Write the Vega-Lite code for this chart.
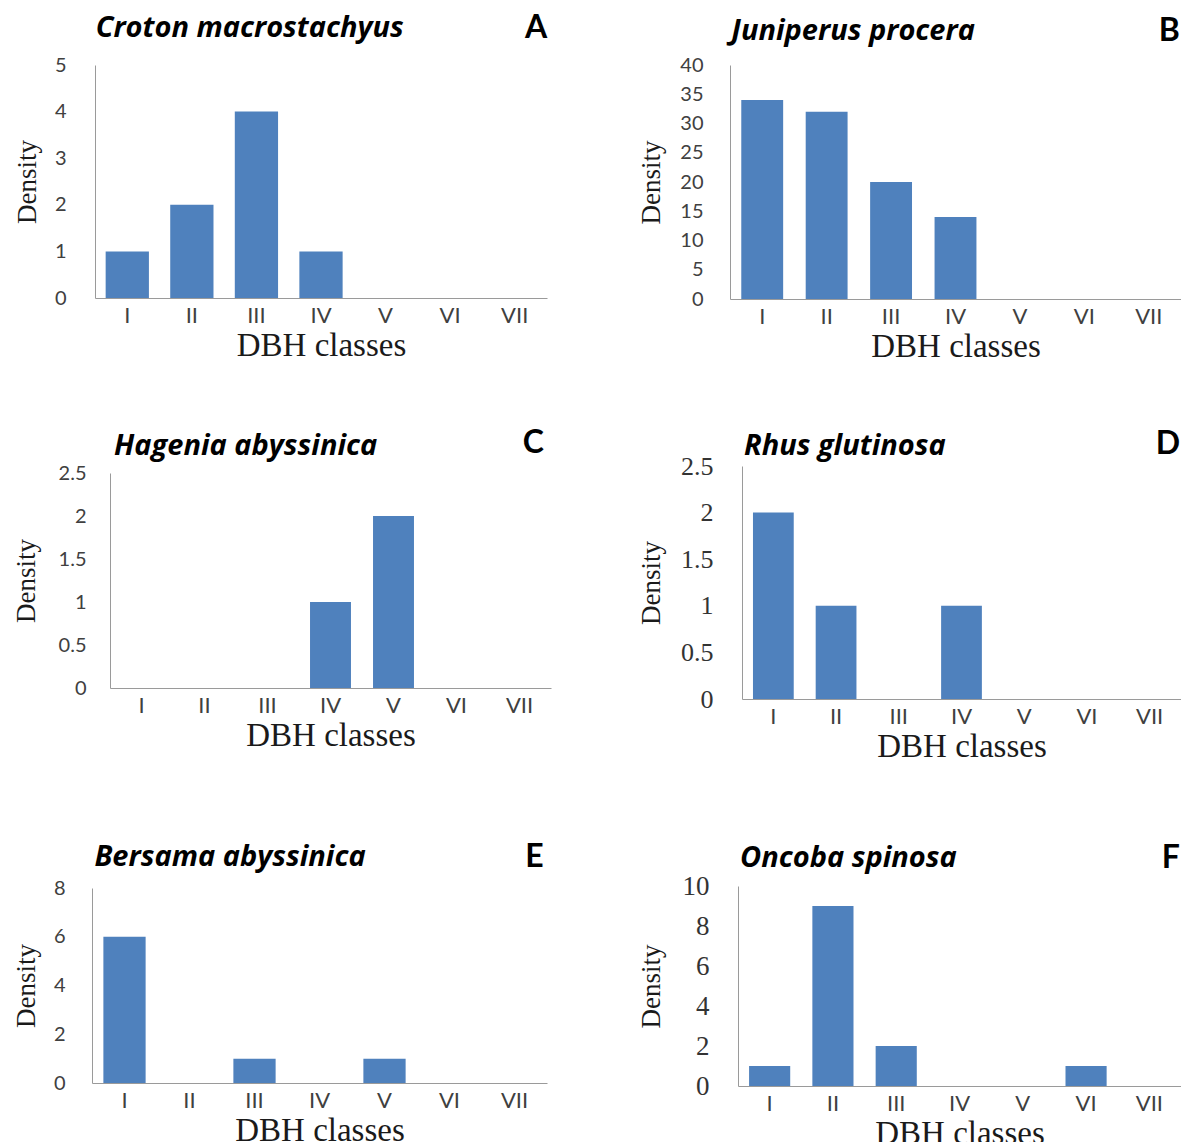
{
  "$schema": "https://vega.github.io/schema/vega-lite/v6.json",
  "padding": {"left": 12, "top": 12, "right": 0, "bottom": 0},
  "background": "white",
  "datasets": {
    "bars": [
      {"p": "A", "cls": "I", "density": 1}, {"p": "A", "cls": "II", "density": 2}, {"p": "A", "cls": "III", "density": 4}, {"p": "A", "cls": "IV", "density": 1}, {"p": "A", "cls": "V", "density": 0}, {"p": "A", "cls": "VI", "density": 0}, {"p": "A", "cls": "VII", "density": 0},
      {"p": "B", "cls": "I", "density": 34}, {"p": "B", "cls": "II", "density": 32}, {"p": "B", "cls": "III", "density": 20}, {"p": "B", "cls": "IV", "density": 14}, {"p": "B", "cls": "V", "density": 0}, {"p": "B", "cls": "VI", "density": 0}, {"p": "B", "cls": "VII", "density": 0},
      {"p": "C", "cls": "I", "density": 0}, {"p": "C", "cls": "II", "density": 0}, {"p": "C", "cls": "III", "density": 0}, {"p": "C", "cls": "IV", "density": 1}, {"p": "C", "cls": "V", "density": 2}, {"p": "C", "cls": "VI", "density": 0}, {"p": "C", "cls": "VII", "density": 0},
      {"p": "D", "cls": "I", "density": 2}, {"p": "D", "cls": "II", "density": 1}, {"p": "D", "cls": "III", "density": 0}, {"p": "D", "cls": "IV", "density": 1}, {"p": "D", "cls": "V", "density": 0}, {"p": "D", "cls": "VI", "density": 0}, {"p": "D", "cls": "VII", "density": 0},
      {"p": "E", "cls": "I", "density": 6}, {"p": "E", "cls": "II", "density": 0}, {"p": "E", "cls": "III", "density": 1}, {"p": "E", "cls": "IV", "density": 0}, {"p": "E", "cls": "V", "density": 1}, {"p": "E", "cls": "VI", "density": 0}, {"p": "E", "cls": "VII", "density": 0},
      {"p": "F", "cls": "I", "density": 1}, {"p": "F", "cls": "II", "density": 9}, {"p": "F", "cls": "III", "density": 2}, {"p": "F", "cls": "IV", "density": 0}, {"p": "F", "cls": "V", "density": 0}, {"p": "F", "cls": "VI", "density": 1}, {"p": "F", "cls": "VII", "density": 0}
    ],
    "labels": [
      {"p": "A", "species": "Croton macrostachyus", "letter": "A"},
      {"p": "B", "species": "Juniperus procera", "letter": "B"},
      {"p": "C", "species": "Hagenia abyssinica", "letter": "C"},
      {"p": "D", "species": "Rhus glutinosa", "letter": "D"},
      {"p": "E", "species": "Bersama abyssinica", "letter": "E"},
      {"p": "F", "species": "Oncoba spinosa", "letter": "F"}
    ]
  },
  "config": {
    "view": {"stroke": null},
    "axis": {"domainColor": "#9a9a9a", "domainWidth": 1, "ticks": false, "grid": false, "labelFont": "Lato", "labelColor": "#404040", "titleFont": "Liberation Serif", "titleFontWeight": "normal", "titleColor": "#1a1a1a"},
    "axisX": {"labelAngle": 0, "labelFontSize": 22, "labelPadding": 7, "titleFontSize": 33, "titlePadding": 2, "minExtent": 29, "maxExtent": 29},
    "axisY": {"labelFontSize": 20, "titleFontSize": 27, "titlePadding": 0, "format": "~r", "labelOverlap": false},
    "bar": {"color": "#4f81bd"},
    "text": {"color": "#000000", "font": "Lato", "fontWeight": "bold", "baseline": "middle"}
  },
  "hconcat": [
    {
      "vconcat": [
        {
          "width": 455, "height": 233,
          "layer": [
            {"data": {"name": "bars"}, "transform": [{"filter": "datum.p === 'A'"}], "mark": "bar",
             "encoding": {
               "x": {"field": "cls", "type": "ordinal", "scale": {"domain": ["I","II","III","IV","V","VI","VII"], "range": [3, 455], "paddingInner": 0.33, "paddingOuter": 0.165}, "axis": {"title": "DBH classes"}},
               "y": {"field": "density", "type": "quantitative", "scale": {"domain": [0, 5], "nice": false}, "axis": {"values": [0,1,2,3,4,5], "title": "Density", "offset": -3, "labelPadding": 29, "minExtent": 54, "maxExtent": 54}}
             }},
            {"data": {"name": "labels"}, "transform": [{"filter": "datum.p === 'A'"}],
             "mark": {"type": "text", "align": "left", "font": "Open Sans", "fontSize": 29, "fontStyle": "italic", "dx": -10, "dy": -37},
             "encoding": {"x": {"datum": "I", "bandPosition": 0}, "y": {"datum": 5, "axis": {"values": [0,1,2,3,4,5], "title": "Density", "offset": -3, "labelPadding": 29, "minExtent": 54, "maxExtent": 54}}, "text": {"field": "species"}}},
            {"data": {"name": "labels"}, "transform": [{"filter": "datum.p === 'A'"}],
             "mark": {"type": "text", "align": "right", "fontSize": 32, "dx": 11, "dy": -37},
             "encoding": {"x": {"datum": "VII", "bandPosition": 1}, "y": {"datum": 5, "axis": {"values": [0,1,2,3,4,5], "title": "Density", "offset": -3, "labelPadding": 29, "minExtent": 54, "maxExtent": 54}}, "text": {"field": "letter"}}}
          ]
        },
        {
          "vconcat": [
            {
              "width": 459, "height": 215,
              "layer": [
                {"data": {"name": "bars"}, "transform": [{"filter": "datum.p === 'C'"}], "mark": "bar",
                 "encoding": {
                   "x": {"field": "cls", "type": "ordinal", "scale": {"domain": ["I","II","III","IV","V","VI","VII"], "range": [18, 459], "paddingInner": 0.35, "paddingOuter": 0.175}, "axis": {"title": "DBH classes"}},
                   "y": {"field": "density", "type": "quantitative", "scale": {"domain": [0, 2.5], "nice": false}, "axis": {"values": [0,0.5,1,1.5,2,2.5], "title": "Density", "offset": -18, "labelPadding": 24, "minExtent": 70, "maxExtent": 70}}
                 }},
                {"data": {"name": "labels"}, "transform": [{"filter": "datum.p === 'C'"}],
                 "mark": {"type": "text", "align": "left", "font": "Open Sans", "fontSize": 29, "fontStyle": "italic", "dx": -7, "dy": -27},
                 "encoding": {"x": {"datum": "I", "bandPosition": 0}, "y": {"datum": 2.5, "axis": {"values": [0,0.5,1,1.5,2,2.5], "title": "Density", "offset": -18, "labelPadding": 24, "minExtent": 70, "maxExtent": 70}}, "text": {"field": "species"}}},
                {"data": {"name": "labels"}, "transform": [{"filter": "datum.p === 'C'"}],
                 "mark": {"type": "text", "align": "right", "fontSize": 32, "dx": 4, "dy": -30},
                 "encoding": {"x": {"datum": "VII", "bandPosition": 1}, "y": {"datum": 2.5, "axis": {"values": [0,0.5,1,1.5,2,2.5], "title": "Density", "offset": -18, "labelPadding": 24, "minExtent": 70, "maxExtent": 70}}, "text": {"field": "letter"}}}
              ]
            },
            {
              "width": 455, "height": 195,
              "layer": [
                {"data": {"name": "bars"}, "transform": [{"filter": "datum.p === 'E'"}], "mark": "bar",
                 "encoding": {
                   "x": {"field": "cls", "type": "ordinal", "scale": {"domain": ["I","II","III","IV","V","VI","VII"], "range": [0, 455], "paddingInner": 0.35, "paddingOuter": 0.175}, "axis": {"title": "DBH classes"}},
                   "y": {"field": "density", "type": "quantitative", "scale": {"domain": [0, 8], "nice": false}, "axis": {"values": [0,2,4,6,8], "title": "Density", "labelPadding": 27, "minExtent": 52, "maxExtent": 52}}
                 }},
                {"data": {"name": "labels"}, "transform": [{"filter": "datum.p === 'E'"}],
                 "mark": {"type": "text", "align": "left", "font": "Open Sans", "fontSize": 29, "fontStyle": "italic", "dx": -9, "dy": -31},
                 "encoding": {"x": {"datum": "I", "bandPosition": 0}, "y": {"datum": 8, "axis": {"values": [0,2,4,6,8], "title": "Density", "labelPadding": 27, "minExtent": 52, "maxExtent": 52}}, "text": {"field": "species"}}},
                {"data": {"name": "labels"}, "transform": [{"filter": "datum.p === 'E'"}],
                 "mark": {"type": "text", "align": "right", "fontSize": 32, "dx": 8, "dy": -31},
                 "encoding": {"x": {"datum": "VII", "bandPosition": 1}, "y": {"datum": 8, "axis": {"values": [0,2,4,6,8], "title": "Density", "labelPadding": 27, "minExtent": 52, "maxExtent": 52}}, "text": {"field": "letter"}}}
              ]
            }
          ],
          "spacing": 89
        }
      ],
      "spacing": 65
    },
    {
      "vconcat": [
        {
          "width": 451, "height": 234,
          "layer": [
            {"data": {"name": "bars"}, "transform": [{"filter": "datum.p === 'B'"}], "mark": "bar",
             "encoding": {
               "x": {"field": "cls", "type": "ordinal", "scale": {"domain": ["I","II","III","IV","V","VI","VII"], "range": [0, 451], "paddingInner": 0.35, "paddingOuter": 0.175}, "axis": {"title": "DBH classes"}},
               "y": {"field": "density", "type": "quantitative", "scale": {"domain": [0, 40], "nice": false}, "axis": {"values": [0,5,10,15,20,25,30,35,40], "title": "Density", "labelPadding": 27, "minExtent": 65, "maxExtent": 65}}
             }},
            {"data": {"name": "labels"}, "transform": [{"filter": "datum.p === 'B'"}],
             "mark": {"type": "text", "align": "left", "font": "Open Sans", "fontSize": 29, "fontStyle": "italic", "dx": -10, "dy": -34},
             "encoding": {"x": {"datum": "I", "bandPosition": 0}, "y": {"datum": 40, "axis": {"values": [0,5,10,15,20,25,30,35,40], "title": "Density", "labelPadding": 27, "minExtent": 65, "maxExtent": 65}}, "text": {"field": "species"}}},
            {"data": {"name": "labels"}, "transform": [{"filter": "datum.p === 'B'"}],
             "mark": {"type": "text", "align": "right", "fontSize": 32, "dx": 10, "dy": -34},
             "encoding": {"x": {"datum": "VII", "bandPosition": 1}, "y": {"datum": 40, "axis": {"values": [0,5,10,15,20,25,30,35,40], "title": "Density", "labelPadding": 27, "minExtent": 65, "maxExtent": 65}}, "text": {"field": "letter"}}}
          ]
        },
        {
          "vconcat": [
            {
              "width": 451, "height": 233,
              "layer": [
                {"data": {"name": "bars"}, "transform": [{"filter": "datum.p === 'D'"}], "mark": "bar",
                 "encoding": {
                   "x": {"field": "cls", "type": "ordinal", "scale": {"domain": ["I","II","III","IV","V","VI","VII"], "range": [12, 451], "paddingInner": 0.35, "paddingOuter": 0.175}, "axis": {"title": "DBH classes"}},
                   "y": {"field": "density", "type": "quantitative", "scale": {"domain": [0, 2.5], "nice": false}, "axis": {"values": [0,0.5,1,1.5,2,2.5], "title": "Density", "offset": -12, "labelFont": "Liberation Serif", "labelFontSize": 26, "labelColor": "#333333", "labelPadding": 29, "minExtent": 77, "maxExtent": 77}}
                 }},
                {"data": {"name": "labels"}, "transform": [{"filter": "datum.p === 'D'"}],
                 "mark": {"type": "text", "align": "left", "font": "Open Sans", "fontSize": 29, "fontStyle": "italic", "dx": -9, "dy": -20},
                 "encoding": {"x": {"datum": "I", "bandPosition": 0}, "y": {"datum": 2.5, "axis": {"values": [0,0.5,1,1.5,2,2.5], "title": "Density", "offset": -12, "labelFont": "Liberation Serif", "labelFontSize": 26, "labelColor": "#333333", "labelPadding": 29, "minExtent": 77, "maxExtent": 77}}, "text": {"field": "species"}}},
                {"data": {"name": "labels"}, "transform": [{"filter": "datum.p === 'D'"}],
                 "mark": {"type": "text", "align": "right", "fontSize": 32, "dx": 10, "dy": -22},
                 "encoding": {"x": {"datum": "VII", "bandPosition": 1}, "y": {"datum": 2.5, "axis": {"values": [0,0.5,1,1.5,2,2.5], "title": "Density", "offset": -12, "labelFont": "Liberation Serif", "labelFontSize": 26, "labelColor": "#333333", "labelPadding": 29, "minExtent": 77, "maxExtent": 77}}, "text": {"field": "letter"}}}
              ]
            },
            {
              "width": 451, "height": 200,
              "layer": [
                {"data": {"name": "bars"}, "transform": [{"filter": "datum.p === 'F'"}], "mark": "bar",
                 "encoding": {
                   "x": {"field": "cls", "type": "ordinal", "scale": {"domain": ["I","II","III","IV","V","VI","VII"], "range": [8, 451], "paddingInner": 0.35, "paddingOuter": 0.175}, "axis": {"title": "DBH classes"}},
                   "y": {"field": "density", "type": "quantitative", "scale": {"domain": [0, 10], "nice": false}, "axis": {"values": [0,2,4,6,8,10], "title": "Density", "offset": -8, "labelFont": "Liberation Serif", "labelFontSize": 27, "labelColor": "#333333", "labelPadding": 29, "minExtent": 73, "maxExtent": 73}}
                 }},
                {"data": {"name": "labels"}, "transform": [{"filter": "datum.p === 'F'"}],
                 "mark": {"type": "text", "align": "left", "font": "Open Sans", "fontSize": 29, "fontStyle": "italic", "dx": -9, "dy": -28},
                 "encoding": {"x": {"datum": "I", "bandPosition": 0}, "y": {"datum": 10, "axis": {"values": [0,2,4,6,8,10], "title": "Density", "offset": -8, "labelFont": "Liberation Serif", "labelFontSize": 27, "labelColor": "#333333", "labelPadding": 29, "minExtent": 73, "maxExtent": 73}}, "text": {"field": "species"}}},
                {"data": {"name": "labels"}, "transform": [{"filter": "datum.p === 'F'"}],
                 "mark": {"type": "text", "align": "right", "fontSize": 32, "dx": 10, "dy": -28},
                 "encoding": {"x": {"datum": "VII", "bandPosition": 1}, "y": {"datum": 10, "axis": {"values": [0,2,4,6,8,10], "title": "Density", "offset": -8, "labelFont": "Liberation Serif", "labelFontSize": 27, "labelColor": "#333333", "labelPadding": 29, "minExtent": 73, "maxExtent": 73}}, "text": {"field": "letter"}}}
              ]
            }
          ],
          "spacing": 79
        }
      ],
      "spacing": 65
    }
  ],
  "spacing": 86
}
